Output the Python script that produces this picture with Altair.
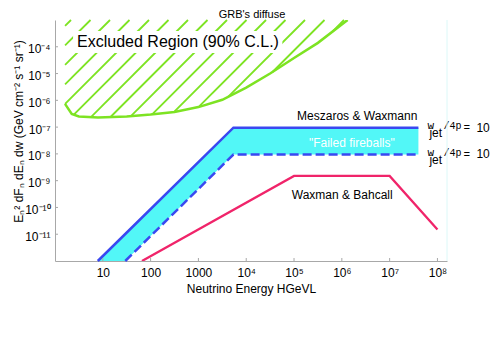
import altair as alt
import numpy as np
import pandas as pd

# ---------------- data ----------------
X_DOMAIN = [1.0, 10 ** 8.2]
Y_DOMAIN = [1e-12, 1e-3]

# excluded region boundary (90% C.L.)
excl_E = [1.62, 2.24, 3.16, 7.94, 31.6, 100, 316, 1000, 3160, 1.0e4, 3.16e4, 1.0e5, 3.16e5, 1.32e6]
excl_flux = [7.4e-7, 3.1e-7, 2.5e-7, 2.3e-7, 2.5e-7, 2.95e-7, 3.7e-7, 5.6e-7, 1.05e-6,
             3.0e-6, 1.0e-5, 3.8e-5, 1.4e-4, 1.0e-3]

# Meszaros & Waxmann "failed fireballs" band
mw_E = [7.85, 29.5, 5400, 4.0e7]
mw_upper = [1.0e-12, 1.02e-11, 9.5e-8, 9.5e-8]
mw_lower = [1.0e-12, 1.0e-12, 9.5e-9, 9.5e-9]

# Waxman & Bahcall
wb_E = [66, 1.0e5, 1.0e7, 1.0e8]
wb_flux = [1.0e-12, 1.5e-9, 1.5e-9, 1.5e-11]

x_ticks = [10, 100, 1000, 1e4, 1e5, 1e6, 1e7, 1e8]
x_tick_labels = ["10", "100", "1000", "10⁴", "10⁵", "10⁶", "10⁷", "10⁸"]
y_ticks = [1e-11, 1e-10, 1e-9, 1e-8, 1e-7, 1e-6, 1e-5, 1e-4]
y_tick_labels = ["10⁻¹¹", "10⁻¹⁰", "10⁻⁹", "10⁻⁸", "10⁻⁷", "10⁻⁶", "10⁻⁵", "10⁻⁴"]

labels_text = ["Excluded Region (90% C.L.)", "Meszaros & Waxmann", "\"Failed fireballs\"", "Waxman & Bahcall"]
labels_E = [374, 2.1e6, 1.62e6, 1.02e6]
labels_flux = [1.5e-4, 2.6e-7, 2.6e-8, 2.95e-10]

excl_box_E = [2.39, 5.7e4]
excl_box_flux = [5.8e-5, 3.9e-4]

TITLE = "GRB's diffuse"

# ---------------- layout / style ----------------
W, H = 392, 241
FONT = "Liberation Sans"
MONO = "Liberation Mono"
GREEN = "#7de322"
BLUE = "#3a48f0"
CYAN = "#52f7f7"
PINK = "#f0246a"
GREY = "#a8a8a8"


def ladder(ticks, labels):
    expr = ""
    for i in range(len(ticks) - 1):
        mid = float(np.sqrt(ticks[i] * ticks[i + 1]))
        expr += f"datum.value < {mid!r} ? '{labels[i]}' : "
    return expr + f"'{labels[-1]}'"


x_scale = alt.Scale(type="log", domain=X_DOMAIN, nice=False)
y_scale = alt.Scale(type="log", domain=Y_DOMAIN, nice=False)

x_axis = alt.Axis(values=x_ticks, labelExpr=ladder(x_ticks, x_tick_labels), grid=False,
                  ticks=False, tickSize=0, domainColor=GREY, labelFont=FONT, labelFontSize=12,
                  labelColor="black", labelPadding=6, labelFlush=False, labelOverlap=False,
                  title="Neutrino Energy HGeVL", titleFont=FONT, titleFontSize=12,
                  titleFontWeight="normal", titleColor="black", titleY=31,
                  titleBaseline="alphabetic")
y_axis = alt.Axis(values=y_ticks, labelExpr=ladder(y_ticks, y_tick_labels), grid=False,
                  ticks=False, tickSize=0, domainColor=GREY, labelFont=FONT, labelFontSize=12,
                  labelColor="black", labelPadding=5, labelOffset=2, labelFlush=False,
                  labelOverlap=False,
                  title="Eₙ² dFₙ dEₙ dw (GeV cm⁻² s⁻¹ sr⁻¹)", titleFont=FONT, titleFontSize=12,
                  titleFontWeight="normal", titleColor="black", titleX=-33, titleY=111,
                  titleAngle=270, titleAlign="center", titleBaseline="alphabetic")

X = alt.X("x:Q", scale=x_scale, axis=x_axis)
Y = alt.Y("y:Q", scale=y_scale, axis=y_axis)

# ---------------- hatch lines for the excluded region ----------------
lx0, lx1 = np.log10(X_DOMAIN)
ly0, ly1 = np.log10(Y_DOMAIN)
ppx = W / (lx1 - lx0)
ppy = H / (ly1 - ly0)
cx = (np.log10(excl_E) - lx0) * ppx
cy = (ly1 - np.log10(excl_flux)) * ppy
px_left = cx[0]
hatch_gap = 19.5
hatch_phase = 133.0
tops = hatch_phase + hatch_gap * np.arange(-20, 30)
tops = tops[(tops >= px_left) & (tops <= cx[-1])]
t = np.arange(0, 450, 0.05)
rows = []
for p in tops:
    xs = p - t
    ys = t
    inside = (xs >= px_left) & (ys <= np.interp(xs, cx, cy))
    if inside.all():
        tend = t[-1]
    else:
        k = int(np.argmin(inside))
        tend = t[max(k - 1, 0)]
    rows.append({
        "x": 10 ** (lx0 + p / ppx), "y": 10 ** ly1,
        "x2": 10 ** (lx0 + (p - tend) / ppx), "y2": 10 ** (ly1 - tend / ppy),
    })
hatch_df = pd.DataFrame(rows)

hatch = alt.Chart(hatch_df).mark_rule(color=GREEN, strokeWidth=1.8).encode(
    x=X, y=Y, x2="x2:Q", y2="y2:Q")

box = alt.Chart(pd.DataFrame({"x": [excl_box_E[0]], "x2": [excl_box_E[1]],
                              "y": [excl_box_flux[0]], "y2": [excl_box_flux[1]]})).mark_rect(
    fill="white").encode(x=X, x2="x2:Q", y=Y, y2="y2:Q")

excl_curve = alt.Chart(pd.DataFrame({"x": excl_E, "y": excl_flux})).mark_line(
    color=GREEN, strokeWidth=2.5, clip=True).encode(x=X, y=Y)

band = alt.Chart(pd.DataFrame({"x": mw_E, "y": mw_upper, "y2": mw_lower})).mark_area(
    color=CYAN, opacity=1).encode(x=X, y=Y, y2="y2:Q")

mw_up_line = alt.Chart(pd.DataFrame({"x": mw_E, "y": mw_upper})).mark_line(
    color=BLUE, strokeWidth=2.5).encode(x=X, y=Y)

mw_low_line = alt.Chart(pd.DataFrame({"x": mw_E[1:], "y": mw_lower[1:]})).mark_line(
    color=BLUE, strokeWidth=2.5, strokeDash=[9, 4]).encode(x=X, y=Y)

wb_line = alt.Chart(pd.DataFrame({"x": wb_E, "y": wb_flux})).mark_line(
    color=PINK, strokeWidth=2.3, clip=True).encode(x=X, y=Y)

lab_df = pd.DataFrame({"x": labels_E, "y": labels_flux, "t": labels_text,
                       "size": [16, 12, 12, 12],
                       "col": ["black", "black", "white", "black"]})
labels = alt.Chart(lab_df).mark_text(font=FONT, align="center", baseline="middle").encode(
    x=X, y=Y, text="t:N",
    size=alt.Size("size:Q", scale=None, legend=None),
    color=alt.Color("col:N", scale=None, legend=None))

# omega_jet / 4 pi labels at the right end of the band
jet_df = pd.DataFrame({"x": [mw_E[-1], mw_E[-1]], "y": [mw_upper[-1], mw_lower[-1]]})
jet_parts = [
    ("w", MONO, 11, 9, 1.5),
    ("jet", FONT, 12, 11, 9.5),
    ("/4p", MONO, 10, 25, 1.5),
    ("=", MONO, 11, 45, 3.5),
    ("10⁻¹", FONT, 12, 58, 4),
]
jet_layers = [
    alt.Chart(jet_df).mark_text(text=txt, font=fnt, fontSize=fs, dx=dx, dy=dy,
                                align="left", baseline="alphabetic", color="black").encode(x=X, y=Y)
    for txt, fnt, fs, dx, dy in jet_parts
]

# chart title drawn as a text mark just above the plot
title = alt.Chart(pd.DataFrame({"t": [TITLE]})).mark_text(
    font=FONT, fontSize=11, align="center", baseline="alphabetic", color="black").encode(
    text="t:N", x=alt.value(W / 2 + 1), y=alt.value(-2))

# inside tick marks
xt = alt.Chart(pd.DataFrame({"x": x_ticks})).mark_rule(color=GREY).encode(
    x=X, y=alt.value(H), y2=alt.value(H - 3))
yt = alt.Chart(pd.DataFrame({"y": y_ticks})).mark_rule(color=GREY).encode(
    y=Y, x=alt.value(0), x2=alt.value(3))
right_edge = alt.Chart(pd.DataFrame({"x": [X_DOMAIN[1]]})).mark_rule(color="#dcf8f8").encode(
    x=X, y=alt.value(0), y2=alt.value(H))

chart = alt.layer(
    hatch, box, excl_curve, band, mw_up_line, mw_low_line, wb_line, labels,
    *jet_layers, title, xt, yt, right_edge
).properties(
    width=W, height=H,
    autosize=alt.AutoSizeParams(type="none"),
    padding={"left": 47, "top": 12, "right": 43, "bottom": 41},
).configure_view(stroke=None)

chart.save("out.html", embed_options={"renderer": "svg", "actions": False})
